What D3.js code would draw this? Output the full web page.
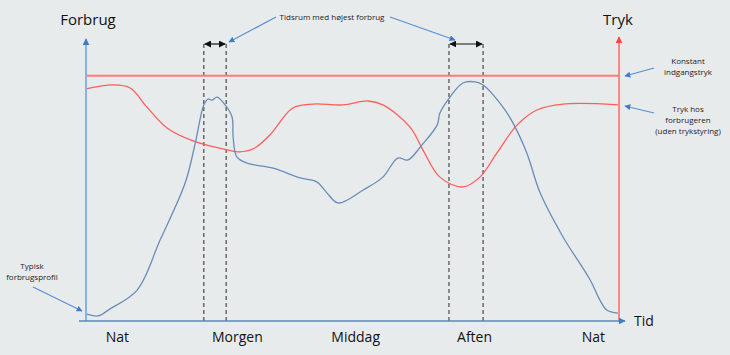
<!DOCTYPE html>
<html><head><meta charset="utf-8">
<script src="https://cdn.jsdelivr.net/npm/d3@7"></script>
<style>
html,body{margin:0;padding:0;background:#e8ebec;}
svg{display:block;font-family:"Open Sans","Noto Sans",sans-serif;}
</style></head>
<body><svg id="c" width="730" height="355"></svg>
<script>
// Time in % of the day (0 = left axis, 100 = right axis); levels in % of the axis height
const categories = ["Nat","Morgen","Middag","Aften","Nat"];
const categoryPos = [5.8, 28.3, 50.5, 72.8, 95.1];
const consumptionT = [0,2.25,4.5,9.6,13.9,18.6,20.5,22.1,22.9,23.6,24.6,26.1,27.4,27.6,28.3,30.2,35.1,40.2,43.3,45.2,47.3,52.0,55.7,58.5,60.4,63.0,65.9,66.4,68.3,70.7,73.0,74.5,78.2,80.1,82.7,85.2,89.5,94.6,96.4,97.7,99.8];
const consumptionV = [2.5,1.8,4.3,11.0,28.8,49.1,63.3,76.9,79.0,78.6,79.7,76.9,72.6,65.5,58.4,56.2,54.4,50.9,49.5,45.6,42.0,46.6,51.2,58.0,57.3,62.6,69.8,74.0,79.7,84.7,85.1,84.0,76.2,70.5,59.8,45.6,29.9,14.6,7.5,3.9,2.8];
const pressureT = [0,5.1,8.3,11.4,15.2,20.1,26.5,28.8,31.5,34.5,38.8,42.6,48.2,52.9,55.7,60.8,63.2,66.4,70.7,73.9,77.1,80.9,84.6,89.5,99.8];
const pressureV = [82.6,84.0,82.9,76.2,68.7,64.1,60.9,60.2,61.4,66.2,75.8,77.2,76.9,78.3,76.9,69.0,60.9,51.2,47.7,51.2,59.8,69.8,75.1,77.2,76.9];
const constantPressure = 87.3;
const peakWindows = [[22.1, 26.3],[68.1, 74.5]];

const svg = d3.select("#c");
const x = d3.scaleLinear().domain([0,100]).range([86,619]);
const y = d3.scaleLinear().domain([0,100]).range([321,40]);

const defs = svg.append("defs");
function marker(id, color, w, h){
  defs.append("marker").attr("id",id).attr("viewBox","0 0 10 10").attr("refX",9).attr("refY",5)
    .attr("markerWidth",w).attr("markerHeight",h).attr("markerUnits","userSpaceOnUse").attr("orient","auto-start-reverse")
    .append("path").attr("d","M0,0 L10,5 L0,10 z").attr("fill",color);
}
marker("ab","#3f7cc8",7,7);
marker("ar","#ff4444",7,7);
marker("ak","#111",7,7);
marker("an","#3f7cc8",6,6);

// dashed peak windows
peakWindows.forEach(w=>{
  w.forEach(t=>{
    svg.append("line").attr("x1",x(t)).attr("x2",x(t)).attr("y1",44).attr("y2",y(0))
      .attr("stroke","#555").attr("stroke-width",1.3).attr("stroke-dasharray","4,3");
  });
  svg.append("line").attr("x1",x(w[0])+1).attr("x2",x(w[1])-1).attr("y1",44).attr("y2",44)
    .attr("stroke","#111").attr("stroke-width",1.2)
    .attr("marker-start","url(#ak)").attr("marker-end","url(#ak)");
});

// constant pressure line
svg.append("line").attr("x1",x(0)).attr("x2",x(100)).attr("y1",y(constantPressure)).attr("y2",y(constantPressure))
  .attr("stroke","#ff7b7b").attr("stroke-width",2);

const line = d3.line().curve(d3.curveCatmullRom.alpha(0.5));
svg.append("path").attr("d", line(pressureT.map((t,i)=>[x(t), y(pressureV[i])])))
  .attr("fill","none").attr("stroke","#ff5c5c").attr("stroke-width",1.3);
svg.append("path").attr("d", line(consumptionT.map((t,i)=>[x(t), y(consumptionV[i])])))
  .attr("fill","none").attr("stroke","#6a8cb8").attr("stroke-width",1.3);

// axes
svg.append("line").attr("x1",x(0)).attr("x2",x(0)).attr("y1",y(0)).attr("y2",39)
  .attr("stroke","#8eb0de").attr("stroke-width",2).attr("marker-end","url(#ab)");
svg.append("line").attr("x1",x(100)).attr("x2",x(100)).attr("y1",y(0)).attr("y2",37)
  .attr("stroke","#ff7b7b").attr("stroke-width",1.8).attr("marker-end","url(#ar)");
svg.append("line").attr("x1",79).attr("x2",625).attr("y1",y(0)).attr("y2",y(0))
  .attr("stroke","#5b86bd").attr("stroke-width",1.3).attr("marker-end","url(#ab)");

// category labels via axis
const catAxis = d3.axisBottom(x).tickValues(categoryPos).tickFormat((d,i)=>categories[i]).tickSize(0).tickPadding(11);
const ga = svg.append("g").attr("transform",`translate(0,${y(0)})`).call(catAxis);
ga.select(".domain").remove();
ga.selectAll("text").attr("font-size",14).attr("fill","#111").attr("font-family","'Open Sans',sans-serif");

// axis titles
svg.append("text").attr("x",88).attr("y",25).attr("text-anchor","middle").attr("font-size",15).attr("fill","#111").text("Forbrug");
svg.append("text").attr("x",618).attr("y",25).attr("text-anchor","middle").attr("font-size",15).attr("fill","#111").text("Tryk");
svg.append("text").attr("x",634).attr("y",326).attr("font-size",14).attr("fill","#111").text("Tid");

// annotations
const ann = {fill:"#222", size:8};
function txt(xp, yp, s){
  svg.append("text").attr("x",xp).attr("y",yp).attr("text-anchor","middle").attr("font-size",ann.size).attr("fill",ann.fill).text(s);
}
function arrow(x1,y1,x2,y2){
  svg.append("line").attr("x1",x1).attr("y1",y1).attr("x2",x2).attr("y2",y2)
    .attr("stroke","#5b8fd0").attr("stroke-width",1.2).attr("marker-end","url(#an)");
}
txt(332,20,"Tidsrum med højest forbrug");
arrow(276,17,229,42);
arrow(390,17,455,40);
txt(688,64,"Konstant");
txt(688,75,"indgangstryk");
arrow(654,68,625,76);
txt(688,112,"Tryk hos");
txt(688,123,"forbrugeren");
txt(688,134,"(uden trykstyring)");
arrow(654,113,625,106);
txt(32,269,"Typisk");
txt(32,280,"forbrugsprofil");
arrow(33,287,82,311);
</script></body></html>
